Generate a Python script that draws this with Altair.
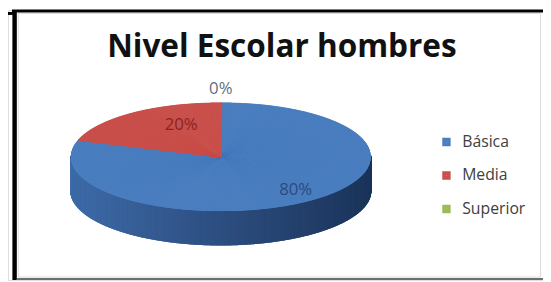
import altair as alt
import pandas as pd

# ---- data ----
categories = ["Básica", "Media", "Superior"]
values = [80, 20, 0]
slice_colors = ["#4A7EBF", "#C9504B", "#9BBB59"]
label_colors = ["#2B4A80", "#8B2323", "#5F7080"]
title_text = "Nivel Escolar hombres"

# ---- layout constants (page pixels) ----
W, H = 543, 274
CX, CY, A, B, DEPTH = 224, 157, 152, 55, 35
N = 1440
FONT = "Open Sans"

df = pd.DataFrame({
    "cat": categories,
    "val": values,
    "order": list(range(len(categories))),
    "lcolor": label_colors,
})
dummy = pd.DataFrame({"k": [0]})

xs = alt.Scale(domain=[8, 8 + W], nice=False, zero=False)
ys = alt.Scale(domain=[8, 8 + H], nice=False, zero=False, reverse=True)

base = (
    alt.Chart(df)
    .transform_joinaggregate(total="sum(val)")
    .transform_window(cum="sum(val)", sort=[alt.SortField("order")], frame=[None, 0])
    .transform_calculate(
        f0="(datum.cum - datum.val) / datum.total",
        f1="datum.cum / datum.total",
    )
)

steps = (
    base.transform_filter("datum.val > 0")
    .transform_calculate(seq=f"sequence(round(datum.f0*{N}), round(datum.f1*{N}) + 2)")
    .transform_flatten(["seq"], as_=["s"])
    .transform_calculate(
        ang=f"datum.s / {N} * 2 * PI",
    )
    .transform_calculate(
        x0=f"{CX}",
        y0=f"{CY}",
        xe=f"{CX} + {A} * sin(datum.ang)",
        ye=f"{CY} - {B} * cos(datum.ang)",
    )
)

side = (
    steps.transform_filter("cos(datum.ang) <= 0.03")
    .transform_calculate(yb=f"datum.ye + {DEPTH}")
    .mark_rule(strokeWidth=1.6)
    .encode(
        x=alt.X("xe:Q", scale=xs, axis=None),
        y=alt.Y("ye:Q", scale=ys, axis=None),
        y2="yb:Q",
        color=alt.Color(
            "xe:Q",
            scale=alt.Scale(domain=[CX - A, CX + A], range=["#3E6BA8", "#1C345A"]),
            legend=None,
        ),
    )
)

top = steps.mark_rule(strokeWidth=1.6).encode(
    x=alt.X("x0:Q", scale=xs, axis=None),
    y=alt.Y("y0:Q", scale=ys, axis=None),
    x2="xe:Q",
    y2="ye:Q",
    color=alt.Color(
        "cat:N",
        scale=alt.Scale(domain=categories, range=slice_colors),
        sort=categories,
        legend=alt.Legend(
            title=None,
            orient="none",
            legendX=437,
            legendY=126,
            symbolType="square",
            symbolSize=20,
            symbolStrokeWidth=4,
            labelFont=FONT,
            labelFontSize=16,
            labelColor="#404040",
            labelOffset=8,
            rowPadding=12,
        ),
    ),
)

labels = (
    base.transform_calculate(
        mid="(datum.f0 + datum.f1) / 2 * 2 * PI",
        share="datum.f1 - datum.f0",
    )
    .transform_calculate(
        rx="datum.val == 0 ? 1.25 : (datum.share >= 0.5 ? 0.85 : 0.45)",
        ry="datum.val == 0 ? 1.25 : (datum.share >= 0.5 ? 0.75 : 0.72)",
        pct="format(datum.share, '.0%')",
    )
    .transform_calculate(
        lx=f"{CX} + {A} * datum.rx * sin(datum.mid)",
        ly=f"{CY} - {B} * datum.ry * cos(datum.mid)",
    )
    .mark_text(font=FONT, fontSize=17, align="center", baseline="middle")
    .encode(
        x=alt.X("lx:Q", scale=xs, axis=None),
        y=alt.Y("ly:Q", scale=ys, axis=None),
        text="pct:N",
        color=alt.Color("lcolor:N", scale=None),
    )
)

title = alt.Chart(dummy).mark_text(
    text=title_text, font=FONT, fontWeight="bold", fontSize=32,
    align="center", baseline="alphabetic", color="#111111",
).encode(x=alt.value(286 - 8), y=alt.value(56 - 8))

inner = alt.Chart(dummy).mark_rect(fill=None, stroke="#D9D9D9", strokeWidth=1).encode(
    x=alt.value(18.5 - 8), x2=alt.value(548.5 - 8), y=alt.value(11.5 - 8), y2=alt.value(279 - 8)
)
frame_top = alt.Chart(dummy).mark_rule(color="#000000", strokeWidth=3).encode(
    x=alt.value(12 - 8), x2=alt.value(W), y=alt.value(1), y2=alt.value(1)
)
frame_left = alt.Chart(dummy).mark_rule(color="#000000", strokeWidth=4.5).encode(
    x=alt.value(14.7 - 8), x2=alt.value(14.7 - 8), y=alt.value(0), y2=alt.value(H)
)
frame_stub = alt.Chart(dummy).mark_rule(color="#000000", strokeWidth=3).encode(
    x=alt.value(0), x2=alt.value(13 - 8), y=alt.value(11.5 - 8), y2=alt.value(11.5 - 8)
)
frame_bottom = alt.Chart(dummy).mark_rule(color="#6E6E6E", strokeWidth=2).encode(
    x=alt.value(17 - 8), x2=alt.value(W), y=alt.value(281 - 8), y2=alt.value(281 - 8)
)

chart = (
    alt.layer(inner, side, top, labels, title, frame_top, frame_left, frame_stub, frame_bottom)
    .resolve_scale(color="independent")
    .properties(width=W, height=H, padding=0, autosize=alt.AutoSizeParams(type="none"))
    .configure_view(stroke=None)
    .configure(background="white")
)

chart.save("out.html", embed_options={"renderer": "svg", "actions": False})
